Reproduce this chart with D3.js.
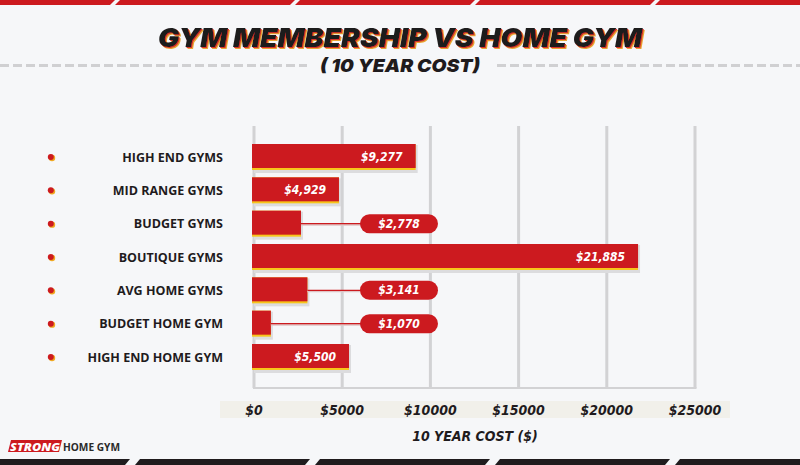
<!DOCTYPE html>
<html><head><meta charset="utf-8">
<script src="https://cdn.jsdelivr.net/npm/d3@7"></script>
<style>html,body{margin:0;padding:0;background:#f6f7f9;}svg{display:block;}</style>
</head><body>
<svg id="c" width="800" height="465"></svg>
<script>
const categories = ["HIGH END GYMS","MID RANGE GYMS","BUDGET GYMS","BOUTIQUE GYMS","AVG HOME GYMS","BUDGET HOME GYM","HIGH END HOME GYM"];
const values = [9277, 4929, 2778, 21885, 3141, 1070, 5500];
const valueLabels = ["$9,277","$4,929","$2,778","$21,885","$3,141","$1,070","$5,500"];
const tickValues = [0, 5000, 10000, 15000, 20000, 25000];
const tickLabels = ["$0","$5000","$10000","$15000","$20000","$25000"];
const title = "GYM MEMBERSHIP VS HOME GYM";
const subtitle = "( 10 YEAR COST)";
const axisTitle = "10 YEAR COST ($)";

const RED = "#cc1a1f", YELLOW = "#f7c51b", DARK = "#1f1b1d", GRID = "#d2d2d4";
const blocky = "'DejaVu Sans Condensed','Liberation Sans Narrow','DejaVu Sans',sans-serif";
const svg = d3.select("#c");
svg.append("rect").attr("width",800).attr("height",465).attr("fill","#f6f7f9");

// title shadow filter
const defs = svg.append("defs");
const f = defs.append("filter").attr("id","ts").attr("x","-5%").attr("y","-20%").attr("width","110%").attr("height","150%");
f.append("feOffset").attr("in","SourceAlpha").attr("dx",1.8).attr("dy",1.8).attr("result","o1");
f.append("feFlood").attr("flood-color","#e9a531").attr("result","c1");
f.append("feComposite").attr("in","c1").attr("in2","o1").attr("operator","in").attr("result","s1");
f.append("feOffset").attr("in","SourceAlpha").attr("dx",0.9).attr("dy",0.9).attr("result","o2");
f.append("feFlood").attr("flood-color","#d8302a").attr("result","c2");
f.append("feComposite").attr("in","c2").attr("in2","o2").attr("operator","in").attr("result","s2");
const m = f.append("feMerge");
m.append("feMergeNode").attr("in","s1");
m.append("feMergeNode").attr("in","s2");
m.append("feMergeNode").attr("in","SourceGraphic");

// top red stripes & bottom dark stripes
const stripeStarts = [-60, 120, 300, 480, 660];
svg.selectAll(".ts").data(stripeStarts).join("path")
  .attr("d", s => `M${s},0 L${s+175},0 L${s+170},5 L${s-5},5 Z`).attr("fill", RED);
const botStarts = [-45, 135, 315, 495, 675];
svg.selectAll(".bs").data(botStarts).join("path")
  .attr("d", s => `M${s+5},459 L${s+175},459 L${s+170},465 L${s},465 Z`).attr("fill", DARK);

// title
svg.append("text").attr("x",400).attr("y",46.5).attr("text-anchor","middle")
  .attr("font-family","Inter,'DejaVu Sans',sans-serif").attr("font-weight",900)
  .attr("font-style","italic").attr("font-size",26).attr("fill",DARK)
  .attr("textLength",484).attr("lengthAdjust","spacingAndGlyphs")
  .attr("filter","url(#ts)").text(title);
// dashed line beside subtitle
svg.append("line").attr("x1",0).attr("x2",307).attr("y1",65.5).attr("y2",65.5)
  .attr("stroke","#d0d0d2").attr("stroke-width",3).attr("stroke-dasharray","9,4");
svg.append("line").attr("x1",497).attr("x2",800).attr("y1",65.5).attr("y2",65.5)
  .attr("stroke","#d0d0d2").attr("stroke-width",3).attr("stroke-dasharray","9,4");
svg.append("text").attr("x",400).attr("y",72).attr("text-anchor","middle")
  .attr("font-family","Inter,'DejaVu Sans',sans-serif").attr("font-weight",900).attr("font-style","italic")
  .attr("font-size",18).attr("fill",DARK).attr("textLength",160).attr("lengthAdjust","spacingAndGlyphs").text(subtitle);

// scales
const x = d3.scaleLinear().domain([0,25000]).range([252,693]);
const y = d3.scalePoint().domain(categories).range([157,357]);

// grid
svg.selectAll(".grid").data(tickValues).join("line")
  .attr("x1",d=>x(d)+2).attr("x2",d=>x(d)+2).attr("y1",126).attr("y2",388)
  .attr("stroke",GRID).attr("stroke-width",3);
svg.append("line").attr("x1",x(0)+1).attr("x2",x(25000)+3.5).attr("y1",388).attr("y2",388)
  .attr("stroke",GRID).attr("stroke-width",2);

// tick band
svg.append("rect").attr("x",220).attr("y",401).attr("width",510).attr("height",17).attr("fill","#f1f0ea");
svg.selectAll(".tick").data(tickValues).join("text")
  .attr("x",d=>x(d)+2).attr("y",414.5).attr("text-anchor","middle")
  .attr("font-family",blocky).attr("font-weight",700).attr("font-style","italic")
  .attr("font-size",14).attr("fill",DARK).text((d,i)=>tickLabels[i]);
svg.append("text").attr("x",475).attr("y",441).attr("text-anchor","middle")
  .attr("font-family",blocky).attr("font-weight",700).attr("font-style","italic")
  .attr("font-size",14).attr("fill",DARK).text(axisTitle);

// category labels & bullets
const rows = svg.selectAll(".row").data(categories).join("g").attr("transform",d=>`translate(0,${y(d)})`);
rows.append("circle").attr("cx",52).attr("cy",1).attr("r",3.2).attr("fill","#f0a81f");
rows.append("circle").attr("cx",50.8).attr("cy",0).attr("r",3).attr("fill",RED);
rows.append("text").attr("x",223).attr("y",4.5).attr("text-anchor","end")
  .attr("font-family","'Open Sans',sans-serif").attr("font-weight",700).attr("font-size",12.5)
  .attr("fill",DARK).text(d=>d);

// bars
const bars = svg.selectAll(".bar").data(categories.map((c,i)=>({c,v:values[i],l:valueLabels[i]}))).join("g")
  .attr("transform",d=>`translate(0,${y(d.c)})`);
bars.append("rect").attr("x",x(0)+2).attr("y",-12).attr("width",d=>x(d.v)-x(0)).attr("height",28).attr("fill","#dcdcde");
bars.append("rect").attr("x",x(0)).attr("y",-13).attr("width",d=>x(d.v)-x(0)).attr("height",26).attr("fill",YELLOW);
bars.append("rect").attr("x",x(0)).attr("y",-13).attr("width",d=>x(d.v)-x(0)).attr("height",24).attr("fill",RED);

const inside = bars.filter(d=>d.v>=4000);
inside.append("text").attr("x",d=>x(d.v)-13).attr("y",4).attr("text-anchor","end")
  .attr("font-family",blocky).attr("font-weight",700).attr("font-style","italic")
  .attr("font-size",12).attr("fill","#fff").text(d=>d.l);

const outside = bars.filter(d=>d.v<4000);
outside.append("line").attr("x1",d=>x(d.v)).attr("x2",362).attr("y1",1).attr("y2",1)
  .attr("stroke","#e0c4c5").attr("stroke-width",2);
outside.append("line").attr("x1",d=>x(d.v)).attr("x2",362).attr("y1",0).attr("y2",0)
  .attr("stroke",RED).attr("stroke-width",1.3);
outside.append("rect").attr("x",360).attr("y",-9.5).attr("width",78).attr("height",19).attr("rx",9.5).attr("fill",RED);
outside.append("text").attr("x",399).attr("y",4).attr("text-anchor","middle")
  .attr("font-family",blocky).attr("font-weight",700).attr("font-style","italic")
  .attr("font-size",12).attr("fill","#fff").text(d=>d.l);

// logo
svg.append("path").attr("d","M11,440 L62,440 L59,452 L8,452 Z").attr("fill",RED);
svg.append("text").attr("x",35).attr("y",450.5).attr("text-anchor","middle")
  .attr("font-family","'Open Sans',sans-serif").attr("font-weight",800).attr("font-style","italic")
  .attr("font-size",11).attr("fill","#fff").attr("textLength",50).attr("lengthAdjust","spacingAndGlyphs").text("STRONG");
svg.append("text").attr("x",63).attr("y",450.5)
  .attr("font-family","'Open Sans',sans-serif").attr("font-weight",700)
  .attr("font-size",11).attr("fill","#2a2a2a").attr("textLength",57).attr("lengthAdjust","spacingAndGlyphs").text("HOME GYM");
</script>
</body></html>
